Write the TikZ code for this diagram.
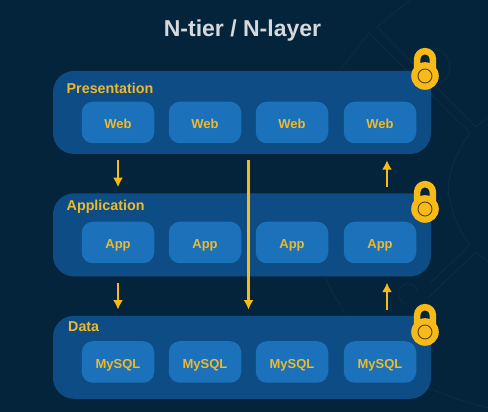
\documentclass[tikz,border=0pt]{standalone}
\usepackage{fontspec}
\setmainfont{Liberation Sans}
\usetikzlibrary{positioning,calc,arrows.meta}
\definecolor{bgnavy}{HTML}{03243B}
\definecolor{bgline}{HTML}{0E2F45}
\definecolor{layerblue}{HTML}{0E4C85}
\definecolor{tierblue}{HTML}{1B72BA}
\definecolor{lockgold}{HTML}{F8BA16}
\definecolor{labelgold}{HTML}{EDB92E}
\definecolor{titlegrey}{HTML}{D5D8DC}
\tikzset{
  layerbox/.style={fill=layerblue,rounded corners=21pt,minimum width=378pt,minimum height=83pt,inner sep=0pt},
  tierbox/.style={fill=tierblue,rounded corners=11pt,minimum width=72.5pt,minimum height=41.5pt,inner sep=0pt,
    text=labelgold,text height=13pt,text depth=0pt,font=\fontsize{13}{13}\selectfont\bfseries},
  layername/.style={text=labelgold,font=\fontsize{14.3}{15}\selectfont\bfseries,inner sep=0pt,anchor=base west},
  flow/.style={draw=lockgold,line width=2.2pt,-{Latex[length=9.5pt,width=10pt]},shorten >=6pt,shorten <=6pt},
  faint/.style={draw=bgline,line width=.6pt},
  pics/padlock/.style={code={
    \draw[lockgold,line width=6.5pt] (-7.8pt,0pt) -- (-7.8pt,17pt) arc[start angle=180,end angle=0,radius=7.8pt] -- (7.8pt,0pt);
    \fill[lockgold] (0,0) circle[radius=13.8pt];
    \draw[fill=lockgold,draw=black!65!lockgold,line width=.9pt] (0,0) circle[radius=7pt];
  }},
}
\begin{document}
\begin{tikzpicture}[x=1pt,y=1pt]
  \fill[bgnavy] (0,0) rectangle (488,412);
  \useasboundingbox (0,0) rectangle (488,412);

  % faint background lines
  \draw[faint] (340,342) -- (369,379) -- (470,279) .. controls (450,250) and (445,225) .. (450,212)
    .. controls (453,195) and (460,180) .. (470,167) -- (430,129);
  \draw[faint] (410,412) -- (377,385) -- (476,285) -- (488,295);
  \draw[faint] (488,150) -- (476,160) -- (428,114);
  \draw[faint] (432,345) circle[radius=18];
  \draw[faint] (418,120) arc[start angle=10,end angle=250,radius=10];
  \draw[faint] (325,135) .. controls (331,122) and (338,110) .. (345,99);
  \draw[faint] (428,24) .. controls (448,16) and (468,9) .. (488,4);

  \node[text=titlegrey,font=\fontsize{23}{23}\selectfont\bfseries] (title) at (242.5,381) {N-tier / N-layer};

  \node[layerbox] (pres) at (242,412-112.5) {};
  \node[layerbox,below=39pt of pres] (app) {};
  \node[layerbox,below=39pt of app] (data) {};

  \node[layername] (presname) at (66.5,412-94) {Presentation};
  \node[layername] (appname) at (66.5,412-210.5) {Application};
  \node[layername] (dataname) at (68,412-332) {Data};

  \foreach \col/\xpos in {1/118,2/205,3/292,4/380}{
    \node[tierbox] (web\col) at (\xpos,412-122.5) {Web};
    \node[tierbox] (app\col) at (\xpos,412-242.5) {App};
    \node[tierbox] (db\col) at (\xpos,412-362) {MySQL};
  }

  \coordinate (midcol) at ($(web2)!.5!(web3)$);
  \coordinate (upcol) at ($(web4)+(7,0)$);

  \draw[flow] (web1 |- pres.south) -- (web1 |- app.north);
  \draw[flow] (app1 |- app.south) -- (app1 |- data.north);
  \draw[flow] (midcol |- pres.south) -- (midcol |- data.north);
  \draw[flow] (upcol |- app.north) -- (upcol |- pres.south);
  \draw[flow] (upcol |- data.north) -- (upcol |- app.south);

  \pic at (425,412-76) {padlock};
  \pic at (425,412-209) {padlock};
  \pic at (425,412-332) {padlock};
\end{tikzpicture}
\end{document}
